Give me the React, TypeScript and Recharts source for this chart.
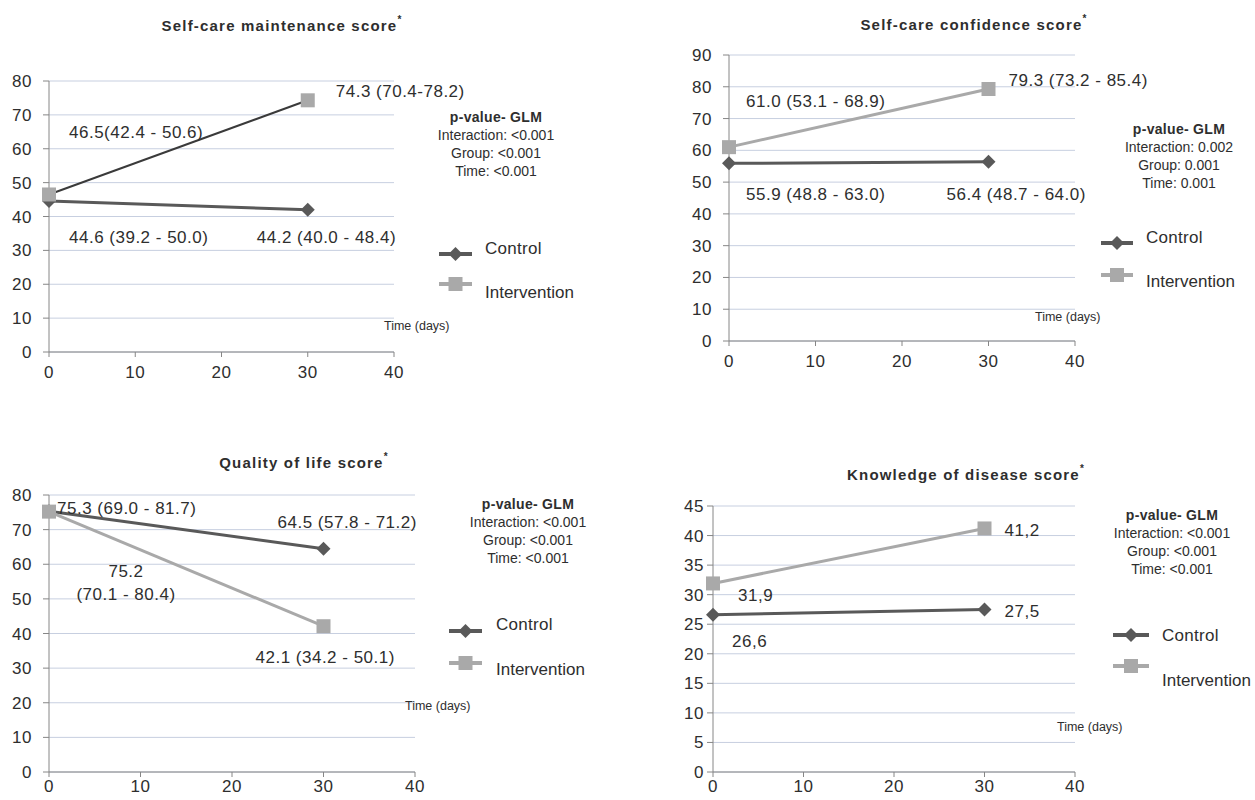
import { CartesianGrid, LabelList, Line, LineChart, XAxis, YAxis } from 'recharts';

// time points (days)
const days = [0, 30];
const xTicks = [0, 10, 20, 30, 40];

// Self-care maintenance
const maintenanceControl = [44.6, 42.0];
const maintenanceIntervention = [46.5, 74.3];
const maintenanceControlLabels = ['44.6 (39.2 - 50.0)', '44.2 (40.0 - 48.4)'];
const maintenanceInterventionLabels = ['46.5(42.4 - 50.6)', '74.3 (70.4-78.2)'];
const maintenanceTicks = [0, 10, 20, 30, 40, 50, 60, 70, 80];
const maintenanceP = ['Interaction: <0.001', 'Group: <0.001', 'Time: <0.001'];

// Self-care confidence
const confidenceControl = [55.9, 56.4];
const confidenceIntervention = [61.0, 79.3];
const confidenceControlLabels = ['55.9 (48.8 - 63.0)', '56.4 (48.7 - 64.0)'];
const confidenceInterventionLabels = ['61.0 (53.1 - 68.9)', '79.3 (73.2 - 85.4)'];
const confidenceTicks = [0, 10, 20, 30, 40, 50, 60, 70, 80, 90];
const confidenceP = ['Interaction: 0.002', 'Group: 0.001', 'Time: 0.001'];

// Quality of life
const qolControl = [75.3, 64.5];
const qolIntervention = [75.2, 42.1];
const qolControlLabels = ['75.3 (69.0 - 81.7)', '64.5 (57.8 - 71.2)'];
const qolInterventionLabels = ['75.2\n(70.1 - 80.4)', '42.1 (34.2 - 50.1)'];
const qolTicks = [0, 10, 20, 30, 40, 50, 60, 70, 80];
const qolP = ['Interaction: <0.001', 'Group: <0.001', 'Time: <0.001'];

// Knowledge of disease
const knowledgeControl = [26.6, 27.5];
const knowledgeIntervention = [31.9, 41.2];
const knowledgeControlLabels = ['26,6', '27,5'];
const knowledgeInterventionLabels = ['31,9', '41,2'];
const knowledgeTicks = [0, 5, 10, 15, 20, 25, 30, 35, 40, 45];
const knowledgeP = ['Interaction: <0.001', 'Group: <0.001', 'Time: <0.001'];

const FONT = '"Liberation Sans", Arial, sans-serif';
const CONTROL = '#595959';
const INTERVENTION = '#a9a9a9';
const AXIS = '#868686';
const GRID = '#c7cfe0';
const TEXT = '#2e2e2e';

type Offset = { dx: number; dy: number; anchor: 'start' | 'middle' | 'end' };

const YW = 40;
const XH = 20;

const panels = [
  {
    title: 'Self-care maintenance score',
    control: maintenanceControl,
    intervention: maintenanceIntervention,
    controlLabels: maintenanceControlLabels,
    interventionLabels: maintenanceInterventionLabels,
    yTicks: maintenanceTicks,
    pLines: maintenanceP,
    interventionLine: '#3a3a3a',
    interventionWidth: 2,
    box: { left: 0, top: 0, width: 627, height: 400 },
    plot: { x0: 49, x1: 394, y0: 81, y1: 352 },
    yMargin: 11,
    xMargin: 9,
    controlOffsets: [
      { dx: 20, dy: 36, anchor: 'start' },
      { dx: -51, dy: 27, anchor: 'start' },
    ] as Offset[],
    interventionOffsets: [
      { dx: 20, dy: -62, anchor: 'start' },
      { dx: 28, dy: -9, anchor: 'start' },
    ] as Offset[],
    titlePos: [282, 25],
    pPos: [496, 117],
    legend: { x0: 439, x1: 472, cy: 254, iy: 284, tx: 485, cty: 248, ity: 292 },
    timePos: [384, 326],
  },
  {
    title: 'Self-care confidence score',
    control: confidenceControl,
    intervention: confidenceIntervention,
    controlLabels: confidenceControlLabels,
    interventionLabels: confidenceInterventionLabels,
    yTicks: confidenceTicks,
    pLines: confidenceP,
    interventionLine: INTERVENTION,
    interventionWidth: 3,
    box: { left: 627, top: 0, width: 628, height: 400 },
    plot: { x0: 729, x1: 1075, y0: 55, y1: 341 },
    yMargin: 11,
    xMargin: 9,
    controlOffsets: [
      { dx: 17, dy: 31, anchor: 'start' },
      { dx: -42, dy: 32, anchor: 'start' },
    ] as Offset[],
    interventionOffsets: [
      { dx: 17, dy: -46, anchor: 'start' },
      { dx: 20, dy: -9, anchor: 'start' },
    ] as Offset[],
    titlePos: [974, 24],
    pPos: [1179, 129],
    legend: { x0: 1101, x1: 1133, cy: 243, iy: 275, tx: 1146, cty: 237, ity: 281 },
    timePos: [1035, 317],
  },
  {
    title: 'Quality of life score',
    control: qolControl,
    intervention: qolIntervention,
    controlLabels: qolControlLabels,
    interventionLabels: qolInterventionLabels,
    yTicks: qolTicks,
    pLines: qolP,
    interventionLine: INTERVENTION,
    interventionWidth: 3,
    box: { left: 0, top: 400, width: 627, height: 400 },
    plot: { x0: 49, x1: 415, y0: 495, y1: 772 },
    yMargin: 11,
    xMargin: 3,
    controlOffsets: [
      { dx: 8, dy: -3, anchor: 'start' },
      { dx: -46, dy: -27, anchor: 'start' },
    ] as Offset[],
    interventionOffsets: [
      { dx: 77, dy: 59, anchor: 'middle' },
      { dx: -68, dy: 31, anchor: 'start' },
    ] as Offset[],
    titlePos: [304, 462],
    pPos: [528, 504],
    legend: { x0: 449, x1: 482, cy: 631, iy: 663, tx: 496, cty: 624, ity: 669 },
    timePos: [405, 706],
  },
  {
    title: 'Knowledge of disease score',
    control: knowledgeControl,
    intervention: knowledgeIntervention,
    controlLabels: knowledgeControlLabels,
    interventionLabels: knowledgeInterventionLabels,
    yTicks: knowledgeTicks,
    pLines: knowledgeP,
    interventionLine: INTERVENTION,
    interventionWidth: 3,
    box: { left: 627, top: 400, width: 628, height: 400 },
    plot: { x0: 713, x1: 1075, y0: 506, y1: 772 },
    yMargin: 3,
    xMargin: 3,
    controlOffsets: [
      { dx: 19, dy: 26, anchor: 'start' },
      { dx: 20, dy: 2, anchor: 'start' },
    ] as Offset[],
    interventionOffsets: [
      { dx: 25, dy: 12, anchor: 'start' },
      { dx: 20, dy: 2, anchor: 'start' },
    ] as Offset[],
    titlePos: [966, 474],
    pPos: [1172, 515],
    legend: { x0: 1113, x1: 1149, cy: 635, iy: 666, tx: 1162, cty: 635, ity: 680 },
    timePos: [1057, 727],
  },
];

type PanelCfg = (typeof panels)[number];

function pointLabel(texts: string[], offsets: Offset[]) {
  return (props: any) => {
    const x = props.x ?? props.viewBox?.x;
    const y = props.y ?? props.viewBox?.y;
    const i = props.index ?? 0;
    const o = offsets[i];
    const lines = String(texts[i]).split('\n');
    return (
      <text
        key={`lbl-${i}`}
        x={x + o.dx}
        y={y + o.dy}
        textAnchor={o.anchor}
        dominantBaseline="central"
        fontSize={17}
        letterSpacing={0.5}
        fontFamily={FONT}
        fill={TEXT}
      >
        {lines.map((l, k) => (
          <tspan key={k} x={x + o.dx} dy={k === 0 ? 0 : 23}>
            {l}
          </tspan>
        ))}
      </text>
    );
  };
}

const diamondDot = (props: any) => {
  const { cx, cy, index } = props;
  const r = 7;
  return (
    <path
      key={`d-${index}`}
      d={`M${cx},${cy - r} L${cx + r},${cy} L${cx},${cy + r} L${cx - r},${cy} Z`}
      fill={CONTROL}
    />
  );
};

const squareDot = (props: any) => {
  const { cx, cy, index } = props;
  const s = 14;
  return <rect key={`s-${index}`} x={cx - s / 2} y={cy - s / 2} width={s} height={s} fill={INTERVENTION} />;
};

function Panel({ p }: { p: PanelCfg }) {
  const data = days.map((d, i) => ({ day: d, control: p.control[i], intervention: p.intervention[i] }));
  const { box, plot } = p;
  const margin = {
    left: plot.x0 - box.left - YW,
    top: plot.y0 - box.top,
    right: box.left + box.width - plot.x1,
    bottom: box.top + box.height - plot.y1 - XH,
  };
  const tick = { fontSize: 17, fill: TEXT, fontFamily: FONT, letterSpacing: 0.5 };
  return (
    <div style={{ position: 'absolute', left: box.left, top: box.top }}>
      <LineChart width={box.width} height={box.height} data={data} margin={margin}>
        <CartesianGrid horizontal vertical={false} stroke={GRID} strokeWidth={1} />
        <XAxis
          type="number"
          dataKey="day"
          domain={[0, 40]}
          ticks={xTicks}
          interval={0}
          height={XH}
          tickSize={5}
          tickMargin={p.xMargin}
          stroke={AXIS}
          tick={tick}
        />
        <YAxis
          type="number"
          domain={[0, p.yTicks[p.yTicks.length - 1]]}
          ticks={p.yTicks}
          interval={0}
          width={YW}
          tickSize={6}
          tickMargin={p.yMargin}
          stroke={AXIS}
          tick={tick}
        />
        <Line
          type="linear"
          dataKey="control"
          stroke={CONTROL}
          strokeWidth={3}
          dot={diamondDot}
          activeDot={false}
          isAnimationActive={false}
        >
          <LabelList dataKey="control" content={pointLabel(p.controlLabels, p.controlOffsets)} />
        </Line>
        <Line
          type="linear"
          dataKey="intervention"
          stroke={p.interventionLine}
          strokeWidth={p.interventionWidth}
          dot={squareDot}
          activeDot={false}
          isAnimationActive={false}
        >
          <LabelList dataKey="intervention" content={pointLabel(p.interventionLabels, p.interventionOffsets)} />
        </Line>
      </LineChart>
    </div>
  );
}

function Annotations({ p }: { p: PanelCfg }) {
  const lg = p.legend;
  const mid = (lg.x0 + lg.x1) / 2;
  return (
    <g fontFamily={FONT} fill={TEXT}>
      <text x={p.titlePos[0]} y={p.titlePos[1]} textAnchor="middle" dominantBaseline="central" fontSize={15} fontWeight="bold" letterSpacing={1.2}>
        {p.title}
        <tspan fontSize={10} dy={-6}>*</tspan>
      </text>
      <text x={p.pPos[0]} y={p.pPos[1]} textAnchor="middle" dominantBaseline="central" fontSize={14} fontWeight="bold" letterSpacing={0.3}>
        p-value-  GLM
      </text>
      {p.pLines.map((l, i) => (
        <text key={l + i} x={p.pPos[0]} y={p.pPos[1] + 18 * (i + 1)} textAnchor="middle" dominantBaseline="central" fontSize={14}>
          {l}
        </text>
      ))}
      <line x1={lg.x0} x2={lg.x1} y1={lg.cy} y2={lg.cy} stroke={CONTROL} strokeWidth={4} />
      <path d={`M${mid},${lg.cy - 7} L${mid + 7},${lg.cy} L${mid},${lg.cy + 7} L${mid - 7},${lg.cy} Z`} fill={CONTROL} />
      <line x1={lg.x0} x2={lg.x1} y1={lg.iy} y2={lg.iy} stroke={INTERVENTION} strokeWidth={4} />
      <rect x={mid - 7} y={lg.iy - 7} width={14} height={14} fill={INTERVENTION} />
      <text x={lg.tx} y={lg.cty} dominantBaseline="central" fontSize={17} letterSpacing={0.3}>
        Control
      </text>
      <text x={lg.tx} y={lg.ity} dominantBaseline="central" fontSize={17} letterSpacing={0}>
        Intervention
      </text>
      <text x={p.timePos[0]} y={p.timePos[1]} dominantBaseline="central" fontSize={12.5}>
        Time (days)
      </text>
    </g>
  );
}

export default function App() {
  return (
    <div style={{ position: 'absolute', left: 0, top: 0, width: 1255, height: 800, background: '#fff', fontFamily: FONT }}>
      {panels.map((p) => (
        <Panel key={p.title} p={p} />
      ))}
      <svg width={1255} height={800} style={{ position: 'absolute', left: 0, top: 0, pointerEvents: 'none' }}>
        {panels.map((p) => (
          <Annotations key={p.title} p={p} />
        ))}
      </svg>
    </div>
  );
}
